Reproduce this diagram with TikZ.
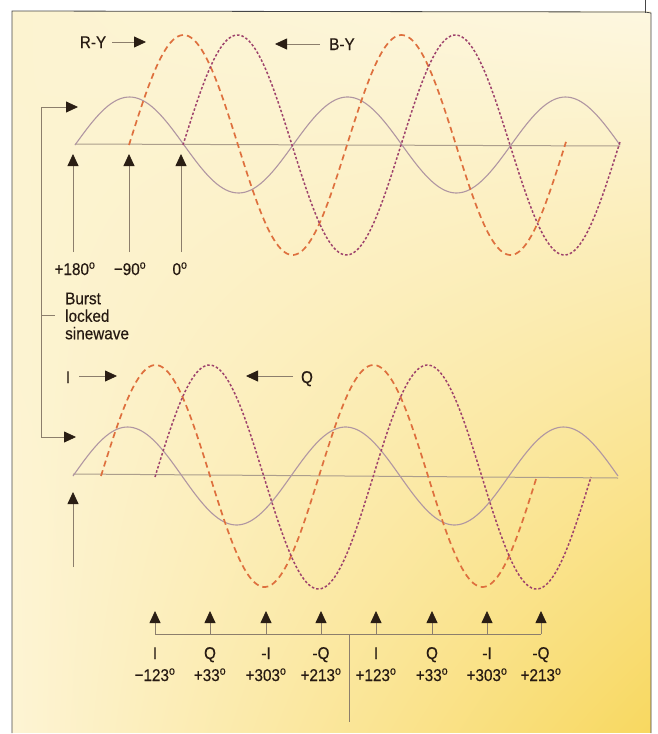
\documentclass[tikz,border=0pt]{standalone}
\usepackage{fontspec}
\setmainfont{Liberation Sans}[FakeStretch=0.9,FakeBold=0.35]
\usetikzlibrary{arrows.meta,shadings}
\definecolor{burstc}{RGB}{176,150,162}
\definecolor{ryc}{RGB}{222,112,62}
\definecolor{byc}{RGB}{158,66,108}
\definecolor{axisc}{RGB}{172,158,140}
\definecolor{linec}{RGB}{140,126,108}
\definecolor{tipc}{RGB}{42,30,20}
\definecolor{txtc}{RGB}{38,26,18}
\definecolor{framec}{RGB}{70,70,70}
\definecolor{bgul}{RGB}{252,243,208}
\definecolor{bgur}{RGB}{253,247,224}
\definecolor{bgll}{RGB}{253,244,212}
\definecolor{bglr}{RGB}{248,216,96}
\newcommand\dg{\textsuperscript{o}}
\tikzset{
  burst/.style={burstc, line width=1.1pt, smooth},
  rydash/.style={ryc, line width=1.7pt, dash pattern=on 6pt off 4pt, smooth},
  bydot/.style={byc, line width=1.5pt, dash pattern=on 2.5pt off 2pt, smooth},
  axisline/.style={axisc, line width=1pt},
  ptr/.style={linec, line width=0.8pt, -{Triangle[length=12pt,width=11pt,color=tipc]}},
  guide/.style={linec, line width=0.8pt},
  lbl/.style={text=txtc, font=\fontsize{17}{18}\selectfont, inner sep=0pt},
}
\begin{document}
\begin{tikzpicture}[x=1pt,y=-1pt]
\useasboundingbox (0,0) rectangle (658,734);
\fill[white] (0,0) rectangle (658,734);
\shade[upper left=bgul, upper right=bgur, lower left=bgll, lower right=bglr]
  (12,11) rectangle (651,732);
\draw[framec, line width=0.8pt] (12,733) -- (12,11) -- (645,12) -- (651,13) -- (651,733);
\draw[framec, line width=0.8pt] (645,0) -- (645,13);

% ---------- top graph ----------
\draw[axisline] (75,144) -- (620,146);
\draw[burst, domain=75:620, samples=200] plot (\x, {145 - 48*sin((\x-75)/218*360)});
\draw[rydash, domain=129:566, samples=200] plot (\x, {145 - 110*sin((\x-129)/218*360)});
\draw[bydot, domain=183:620, samples=200] plot (\x, {145 - 110*sin((\x-183)/218*360)});

\node[lbl, anchor=base] (ry) at (93,48) {R-Y};
\coordinate (ryS) at (112,42);
\coordinate (ryT) at (146,42);
\draw[ptr] (ryS) -- (ryT);
\node[lbl, anchor=base west] (by) at (329,50) {B-Y};
\coordinate (byS) at (320,44);
\coordinate (byT) at (275,44);
\draw[ptr] (byS) -- (byT);

\coordinate (u1b) at (73,252); \coordinate (u1t) at (73,154);
\coordinate (u2b) at (129,252); \coordinate (u2t) at (129,154);
\coordinate (u3b) at (181,252); \coordinate (u3t) at (181,154);
\draw[ptr] (u1b) -- (u1t);
\draw[ptr] (u2b) -- (u2t);
\draw[ptr] (u3b) -- (u3t);
\node[lbl, anchor=base] (p180) at (75,275) {+180\dg};
\node[lbl, anchor=base] (m90) at (130,275) {−90\dg};
\node[lbl, anchor=base] (z0) at (180,275) {0\dg};

% bracket
\coordinate (brT) at (41,107);
\coordinate (brB) at (41,437);
\coordinate (brTa) at (78,107);
\coordinate (brBa) at (76,437);
\draw[guide] (brB) -- (brT);
\draw[ptr] (brT) -- (brTa);
\draw[ptr] (brB) -- (brBa);
\coordinate (tick) at (55,315);
\draw[guide] (41,315) -- (tick);
\node[lbl, anchor=west, align=left, font=\fontsize{17}{17.5}\selectfont] (bls) at (65,316) {Burst\\locked\\sinewave};

% ---------- bottom graph ----------
\draw[axisline] (73,474) -- (618,478);
\draw[burst, domain=73:618, samples=200] plot (\x, {476 - 49*sin((\x-73)/218*360)});
\draw[rydash, domain=101:537, samples=200] plot (\x, {476 - 111*sin((\x-101)/218*360)});
\draw[bydot, domain=155:591, samples=200] plot (\x, {477 - 112*sin((\x-155)/218*360)});

\node[lbl, anchor=base] (il) at (68,383) {I};
\coordinate (iS) at (79,376);
\coordinate (iT) at (117,376);
\draw[ptr] (iS) -- (iT);
\node[lbl, anchor=base] (ql) at (307,383) {Q};
\coordinate (qS) at (293,376);
\coordinate (qT) at (246,376);
\draw[ptr] (qS) -- (qT);

\coordinate (v0b) at (73,567); \coordinate (v0t) at (73,492);
\draw[ptr] (v0b) -- (v0t);

% bottom arrow row
\foreach \n/\xx/\na/\nb in {1/155/I/−123\dg, 2/210/Q/+33\dg, 3/266/-I/+303\dg, 4/321/-Q/+213\dg,
                             5/376/I/+123\dg, 6/432/Q/+33\dg, 7/487/-I/+303\dg, 8/541/-Q/+213\dg}{
  \coordinate (b\n b) at (\xx,634);
  \coordinate (b\n t) at (\xx,611);
  \draw[ptr] (b\n b) -- (b\n t);
  \node[lbl, anchor=base] (la\n) at (\xx,659) {\na};
  \node[lbl, anchor=base] (lb\n) at (\xx,681) {\nb};
}
\draw[guide] (b1b) -- (b8b);
\coordinate (stemT) at (349,634);
\coordinate (stemB) at (349,722);
\draw[guide] (stemT) -- (stemB);
\end{tikzpicture}
\end{document}
